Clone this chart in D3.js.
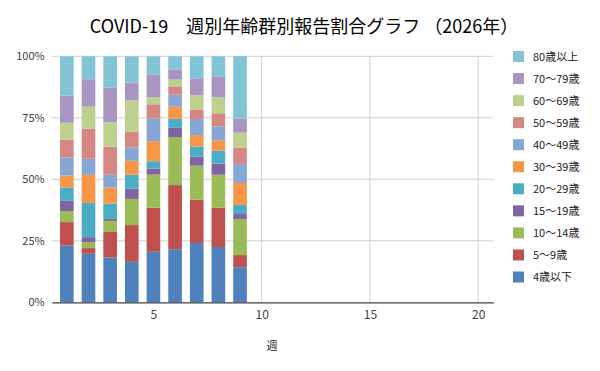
<!DOCTYPE html>
<html><head><meta charset="utf-8">
<script src="https://cdn.jsdelivr.net/npm/d3@7"></script>
<style>body{margin:0;background:#fff}svg{display:block}text{font-family:"Noto Sans CJK JP","Noto Sans",sans-serif}</style>
</head><body><svg id="c" width="600" height="371"></svg>
<script>
const weeks = [1,2,3,4,5,6,7,8,9];
const groups = ["4歳以下","5～9歳","10～14歳","15～19歳","20～29歳","30～39歳","40～49歳","50～59歳","60～69歳","70～79歳","80歳以上"];
const colors = ["#4F81BD","#C0504D","#9BBB59","#8064A2","#4BACC6","#F79646","#86A6D4","#D68783","#BCD18E","#A895C2","#82C4D6"];
// percentages per week, ordered as groups
const age0_4   = [23.0,19.6,18.2,16.4,20.4,21.5,24.0,22.4,14.2];
const age5_9   = [9.5, 2.3, 10.3,14.9,17.8,26.0,17.5,15.9,4.9];
const age10_14 = [4.5, 2.4, 4.5, 10.6,13.4,19.5,13.8,13.4,14.6];
const age15_19 = [4.1, 2.0, 0.8, 4.1, 2.4, 3.7, 3.7, 4.5, 2.0];
const age20_29 = [5.4, 13.8,6.2, 5.7, 3.0, 3.7, 4.1, 5.3, 3.7];
const age30_39 = [4.9, 11.4,6.5, 5.7, 8.1, 4.9, 4.6, 4.1, 8.9];
const age40_49 = [7.3, 6.5, 5.2, 5.4, 9.2, 4.9, 6.5, 5.7, 7.7];
const age50_59 = [7.2, 12.2,11.4,6.4, 5.7, 3.3, 3.9, 5.3, 6.5];
const age60_69 = [6.9, 8.9, 9.8, 12.6,2.8, 2.8, 5.7, 6.5, 6.1];
const age70_79 = [11.0,11.0,14.2,7.3, 9.3, 4.1, 6.9, 8.5, 5.7];
const age80    = [15.9,9.3, 12.6,10.6,7.3, 5.3, 8.9, 8.1, 25.2];
const series = [age0_4,age5_9,age10_14,age15_19,age20_29,age30_39,age40_49,age50_59,age60_69,age70_79,age80];
const xTicks = [5,10,15,20];
const yTicks = [0,0.25,0.5,0.75,1];

const rows = weeks.map((w,i)=>{const r={week:w}; groups.forEach((g,j)=>r[g]=series[j][i]); return r;});
const stack = d3.stack().keys(groups).offset(d3.stackOffsetExpand)(rows);

const svg = d3.select("#c");
const x = d3.scaleLinear().domain([0.3,20.7]).range([51.7,493.3]);
const y = d3.scaleLinear().domain([0,1]).range([302.3,56.3]);
const bw = x(1.63)-x(1);

// gridlines
svg.append("g").selectAll("line.h").data(yTicks.filter(d=>d>0)).join("line")
  .attr("x1",x.range()[0]).attr("x2",x.range()[1])
  .attr("y1",d=>y(d)).attr("y2",d=>y(d))
  .attr("stroke","#D0D0D0").attr("stroke-width",1);
svg.append("g").selectAll("line.v").data(xTicks).join("line")
  .attr("x1",d=>x(d)).attr("x2",d=>x(d))
  .attr("y1",y(1)).attr("y2",y(0))
  .attr("stroke","#D0D0D0").attr("stroke-width",1);

// bars
svg.append("g").selectAll("g").data(stack).join("g")
  .attr("fill",(d,i)=>colors[i])
  .selectAll("rect").data(d=>d).join("rect")
  .attr("x",d=>x(d.data.week)-bw/2).attr("width",bw)
  .attr("y",d=>y(d[1])).attr("height",d=>y(d[0])-y(d[1]));

// axes
const yAxis = d3.axisLeft(y).tickValues(yTicks).tickFormat(d3.format(".0%")).tickSize(0).tickPadding(7);
const gy = svg.append("g").attr("transform",`translate(${x.range()[0]},0)`).call(yAxis);
gy.select(".domain").remove();
gy.selectAll("text").attr("font-size",11).attr("fill","#404040").attr("font-family","'Liberation Sans',Arial,sans-serif");

const xAxis = d3.axisBottom(x).tickValues(xTicks).tickSize(0).tickPadding(8);
const gx = svg.append("g").attr("transform",`translate(0,${y(0)})`).call(xAxis);
gx.select(".domain").attr("stroke","#404040").attr("stroke-width",1.3);
gx.selectAll("text").attr("font-size",12).attr("fill","#404040").attr("font-family","'Liberation Sans',Arial,sans-serif");

// title
svg.append("text").attr("x",304).attr("y",33).attr("text-anchor","middle")
  .attr("font-size",18).attr("fill","#000")
  .text("COVID-19　週別年齢群別報告割合グラフ （2026年）");

// x label
svg.append("text").attr("x",272).attr("y",350).attr("text-anchor","middle")
  .attr("font-size",11).attr("fill","#222").text("週");

// legend
const leg = svg.append("g");
const legOrder = groups.map((g,i)=>({g,c:colors[i]})).reverse();
const item = leg.selectAll("g").data(legOrder).join("g")
  .attr("transform",(d,i)=>`translate(513,${56.5+i*22.05})`);
item.append("rect").attr("x",0).attr("y",-5.5).attr("width",11).attr("height",11).attr("fill",d=>d.c);
item.append("text").attr("x",20).attr("y",4).attr("font-size",11).attr("fill","#222").text(d=>d.g);
</script></body></html>
